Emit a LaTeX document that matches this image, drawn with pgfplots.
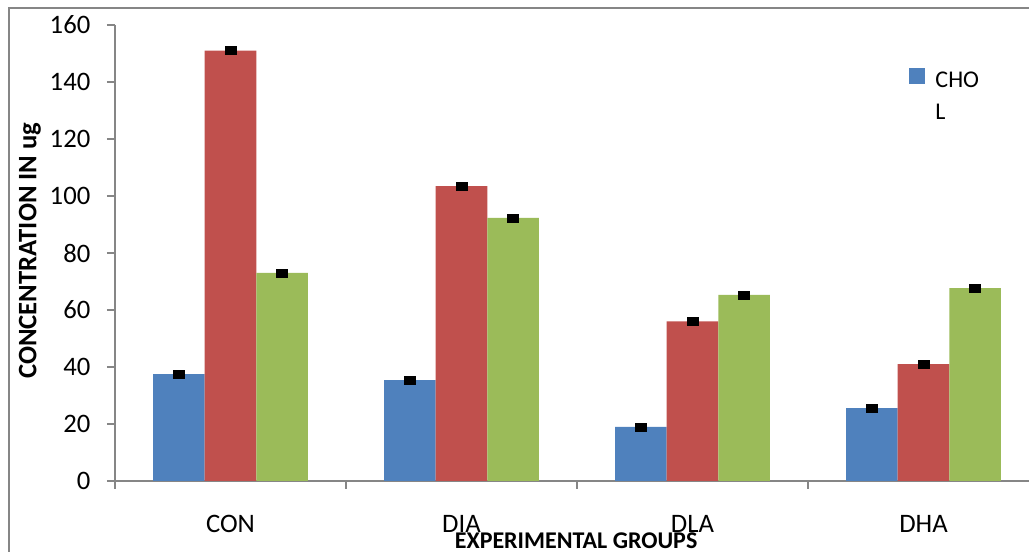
\documentclass[border=0pt]{standalone}
\usepackage{pgfplots}
\pgfplotsset{compat=1.18}
\usepackage{fontspec}
\setmainfont{Carlito}
\definecolor{cblue}{HTML}{4F81BD}
\definecolor{cred}{HTML}{C0504D}
\definecolor{cgreen}{HTML}{9BBB59}
\definecolor{axgray}{HTML}{868686}
\begin{document}
\begin{tikzpicture}
\useasboundingbox (-86.25pt,-53.25pt) rectangle (685.5pt,360.75pt);
\draw[axgray, line width=0.9pt] (-79.5pt,-70pt) -- (-79.5pt,354.75pt) -- (700pt,354.75pt);
\begin{axis}[
  at={(0pt,0pt)}, anchor=south west,
  scale only axis, width=693pt, height=342pt,
  xmin=-0.5, xmax=3.5, ymin=0, ymax=160,
  axis x line*=bottom, axis y line*=left,
  axis line style={axgray, line width=1pt, -},
  xtick={-0.5,0.5,1.5,2.5,3.5}, xticklabels={},
  extra x ticks={0,1,2,3}, extra x tick labels={CON,DIA,DLA,DHA},
  extra x tick style={major tick length=0pt, xticklabel style={yshift=-22pt}},
  ytick={0,20,...,160},
  yticklabel style={xshift=-9pt},
  tick align=outside, major tick length=6pt,
  tick style={axgray, line width=1pt},
  ticklabel style={font=\fontsize{20pt}{24pt}\selectfont},
  /pgf/number format/assume math mode=true,
  ylabel={\textbf{CONCENTRATION IN ug}},
  xlabel={\textbf{EXPERIMENTAL GROUPS}},
  ylabel style={font=\fontsize{20pt}{24pt}\selectfont, at={(axis description cs:-0.092,0.505)}, anchor=center},
  xlabel style={font=\fontsize{18pt}{22pt}\selectfont, at={(axis description cs:0.499,-0.13)}, anchor=center},
  legend style={at={(axis description cs:0.855,0.925)}, anchor=north west, draw=none, fill=none,
    font=\fontsize{18pt}{24pt}\selectfont, cells={anchor=base west}},
]
\addplot[ybar, bar width=0.223, bar shift=-0.223, fill=cblue, draw=none, forget plot]
  coordinates {(0,37.5) (1,35.4) (2,19.0) (3,25.6)};
\addplot[ybar, bar width=0.223, bar shift=0, fill=cred, draw=none, forget plot]
  coordinates {(0,151.0) (1,103.5) (2,56.0) (3,41.0)};
\addplot[ybar, bar width=0.223, bar shift=0.223, fill=cgreen, draw=none, forget plot]
  coordinates {(0,73.0) (1,92.3) (2,65.3) (3,67.7)};
% error markers at bar tops (x offset by bar shift)
\addplot[only marks, mark=square*, mark options={black, xscale=1.35}, mark size=3pt, forget plot]
  coordinates {(-0.223,37.5) (0.777,35.4) (1.777,19.0) (2.777,25.6)
               (0,151.0) (1,103.5) (2,56.0) (3,41.0)
               (0.223,73.0) (1.223,92.3) (2.223,65.3) (3.223,67.7)};
\addlegendimage{legend image code/.code={\fill[cblue] (0pt,3pt) rectangle (11.25pt,14pt);}}
\addlegendentry{\begin{tabular}[t]{@{\hspace{6pt}}l@{}}CHO\\L\end{tabular}}
\end{axis}
\end{tikzpicture}
\end{document}
